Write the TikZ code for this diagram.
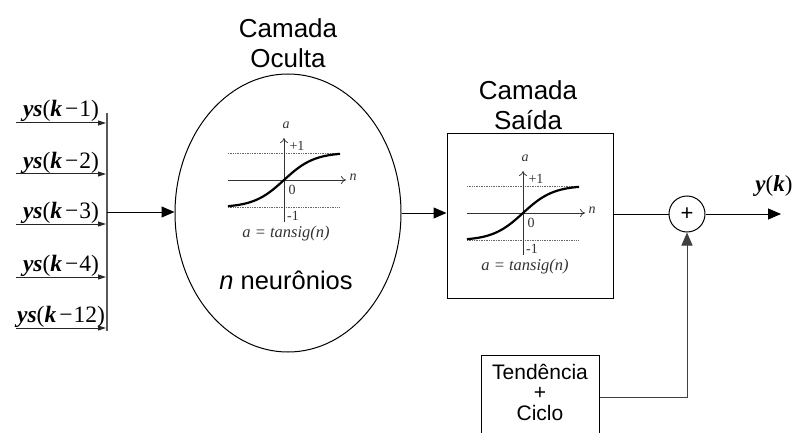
\documentclass[tikz,border=0pt]{standalone}
\usepackage{fontspec}
\setmainfont{Liberation Sans}
\newfontfamily\tms{Liberation Serif}
\usetikzlibrary{arrows.meta,shapes.geometric}
\newcommand\ysl[1]{{\tms\fontsize{23.5}{25}\selectfont\textbf{\textit{ys}}(\textbf{\textit{k}}\kern3pt−\kern1pt#1)}}
\tikzset{
  ln/.style={line width=1pt, draw=black},
  arr/.style={ln, -{Triangle[length=13pt,width=11pt]}},
  inarr/.style={line width=1pt, draw=black!85, -{Triangle[length=8pt,width=5pt]}},
  title/.style={font=\fontsize{26}{30}\selectfont, align=center, inner sep=0pt},
  ylab/.style={inner sep=0pt, anchor=base},
  small/.style={font=\tms\fontsize{14}{15}\selectfont, inner sep=0pt, text=black!80},
  smallit/.style={font=\tms\itshape\fontsize{14}{15}\selectfont, inner sep=0pt, text=black!80},
  tansig/.pic={
    \draw[densely dotted, black!60, line width=0.7pt] (-56,-27) -- (56,-27);
    \draw[densely dotted, black!60, line width=0.7pt] (-56,27) -- (56,27);
    \draw[line width=0.7pt, black!80, -{To[length=5pt,width=8pt]}] (-56,0) -- (62,0);
    \draw[line width=0.7pt, black!80, -{To[length=5pt,width=8pt]}] (0,42) -- (0,-42);
    \draw[line width=2.2pt, black, domain=-1.85:1.85, samples=40, smooth] plot ({30.3*\x},{-27.5*tanh(\x)});
    \node[smallit] (-a) at (2,-55) {a};
    \node[small] (-p1) at (13,-34) {+1};
    \node[smallit] (-n) at (69,-3) {n};
    \node[small] (-z) at (8,10) {0};
    \node[small] (-m1) at (9,36) {-1};
    \node[smallit, font=\tms\itshape\fontsize{16.5}{17}\selectfont] (-f) at (2,54) {a = tansig(n)};
  }
}
\begin{document}
\begin{tikzpicture}[x=1pt,y=-1pt]
\useasboundingbox[fill=white] (0,0) rectangle (798,433);

% input bar
\coordinate (bartop) at (107,113);
\coordinate (barbot) at (107,331);
\coordinate (barmid) at (107,212);
\draw[line width=1.3pt, black!65] (bartop) -- (barbot);

% inputs
\foreach \i/\yy/\lab in {1/123/1, 2/174/2, 3/224/3, 4/277/4, 5/328/12}{
  \coordinate (in\i) at (16,\yy);
  \coordinate (ie\i) at (106,\yy);
  \draw[inarr] (in\i) -- (ie\i);
  \node[ylab] (lab\i) at (61,\yy-6) {\ysl{\lab}};
}

% hidden layer
\node (hid) [ellipse, draw, line width=1pt, minimum width=226pt, minimum height=278pt, inner sep=0pt] at (288,213) {};
\node[title] (hidt) at (288,43) {Camada\\Oculta};
\pic (p1) at (284,180) {tansig};
\node[font=\fontsize{25.5}{30}\selectfont, inner sep=0pt] (neu) at (286,280) {\textit{n} neurônios};
\draw[arr] (barmid) -- (barmid -| hid.west);

% output layer
\node (out) [draw, line width=1pt, minimum width=166pt, minimum height=164pt, inner sep=0pt] at (530,216) {};
\node[title] (outt) at (528,105) {Camada\\Saída};
\pic (p2) at (523,213) {tansig};
\draw[arr] (hid.east) -- (hid.east -| out.west);

% sum
\node (sum) [circle, draw, line width=1pt, minimum size=36pt, inner sep=0pt, font=\fontsize{22}{22}\selectfont] at (687,214) {+};
\draw[ln] (sum.west -| out.east) -- (sum.west);
\coordinate (yend) at (781,214);
\draw[arr] (sum.east) -- (yend);
\node[ylab] (ylbl) at (774,192) {\tms\fontsize{23}{24}\selectfont\textbf{\textit{y}}(\textbf{\textit{k}})};

% trend + cycle
\node (tc) [draw, line width=1pt, minimum width=118pt, minimum height=84pt, inner sep=0pt] at (540,397) {};
\node[align=center, inner sep=0pt, font=\fontsize{21}{20.5}\selectfont] (tct) at (540,392) {Tendência\\+\\Ciclo};
\draw[arr, draw=black!75] (tc.east) -| (sum.south);
\end{tikzpicture}
\end{document}
